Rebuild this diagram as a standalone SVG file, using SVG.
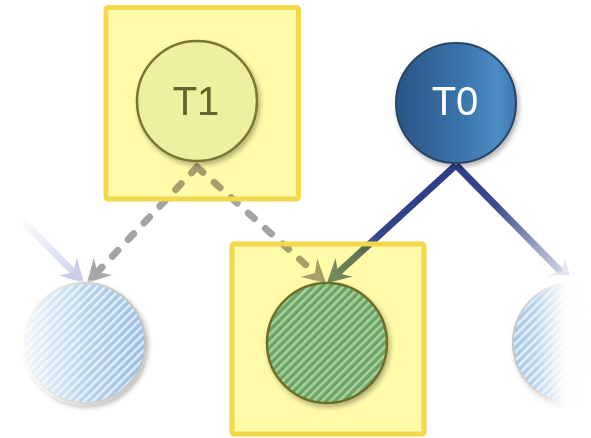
<svg xmlns="http://www.w3.org/2000/svg" width="591" height="438" viewBox="0 0 591 438">
  <defs>
    <style>
      .lbl { font-family: "Liberation Sans", Arial, sans-serif; font-size: 40px; text-anchor: middle; }
      .dash { fill: none; stroke: #a3a3a3; stroke-width: 7; stroke-dasharray: 8 15; stroke-linecap: round; }
      .solid { fill: none; stroke-width: 7; stroke-linecap: butt; }
      .hl-fill { fill: #fffba8; mix-blend-mode: multiply; }
      .hl-edge { fill: none; stroke: #f4d84c; stroke-width: 5; }
    </style>
    <!-- arrowhead pointing along +x, tip at the origin -->
    <path id="head" d="M0,0 L-23,-12.5 L-15,0 L-23,12.5 Z"/>
    <filter id="sh" x="-20%" y="-20%" width="145%" height="145%">
      <feDropShadow dx="2" dy="3" stdDeviation="2.5" flood-color="#000" flood-opacity="0.3"/>
    </filter>
    <pattern id="hatchC" width="6" height="6" patternUnits="userSpaceOnUse" patternTransform="rotate(45)">
      <rect width="6" height="6" fill="#6aa39f"/>
      <rect width="2.6" height="6" fill="#a6d6e2"/>
    </pattern>
    <pattern id="hatchS" width="6" height="6" patternUnits="userSpaceOnUse" patternTransform="rotate(45)">
      <rect width="6" height="6" fill="#8fbbe3"/>
      <rect width="2.6" height="6" fill="#dbe9f6"/>
    </pattern>
    <linearGradient id="t0fill" x1="0" y1="0" x2="1" y2="0">
      <stop offset="0" stop-color="#2a5586"/>
      <stop offset="0.55" stop-color="#3a74ad"/>
      <stop offset="0.85" stop-color="#4d8cc6"/>
      <stop offset="1" stop-color="#3c76ae"/>
    </linearGradient>
    <linearGradient id="fadeL" x1="0" y1="0" x2="1" y2="0">
      <stop offset="0" stop-color="#fff" stop-opacity="0.9"/>
      <stop offset="0.55" stop-color="#fff" stop-opacity="0.3"/>
      <stop offset="1" stop-color="#fff" stop-opacity="0.05"/>
    </linearGradient>
    <linearGradient id="fadeR" x1="0" y1="0" x2="1" y2="0">
      <stop offset="0" stop-color="#fff" stop-opacity="0.1"/>
      <stop offset="0.35" stop-color="#fff" stop-opacity="0.35"/>
      <stop offset="0.7" stop-color="#fff" stop-opacity="0.97"/>
      <stop offset="1" stop-color="#fff" stop-opacity="1"/>
    </linearGradient>
    <linearGradient id="gC" gradientUnits="userSpaceOnUse" x1="456" y1="165" x2="327" y2="283">
      <stop offset="0" stop-color="#2d3b88"/>
      <stop offset="0.6" stop-color="#33458a"/>
      <stop offset="0.75" stop-color="#627680"/>
      <stop offset="1" stop-color="#788c8e"/>
    </linearGradient>
    <linearGradient id="gR" gradientUnits="userSpaceOnUse" x1="456" y1="165" x2="572" y2="283">
      <stop offset="0" stop-color="#2d3b88"/>
      <stop offset="0.35" stop-color="#3c4c90"/>
      <stop offset="0.75" stop-color="#aab0cc"/>
      <stop offset="1" stop-color="#e2e4f2"/>
    </linearGradient>
    <linearGradient id="gL" gradientUnits="userSpaceOnUse" x1="20" y1="218" x2="84" y2="283">
      <stop offset="0" stop-color="#c8cdea" stop-opacity="0"/>
      <stop offset="1" stop-color="#c8cdea"/>
    </linearGradient>
  </defs>

  <rect width="591" height="438" fill="#fff"/>

  <g id="connectors">
    <line class="solid" stroke="url(#gL)" x1="20" y1="218" x2="73.5" y2="272.3"/>
    <use href="#head" fill="#c9cdea" transform="translate(84,283) rotate(45.4)"/>

    <line class="dash" x1="197" y1="167" x2="96.6" y2="272.8"/>
    <use href="#head" fill="#a8a8a8" transform="translate(87,283) rotate(133.5)"/>

    <line class="dash" x1="197" y1="167" x2="315.6" y2="273.6"/>
    <use href="#head" fill="#a4a4a0" transform="translate(326,283) rotate(41.96)"/>

    <line class="solid" stroke="url(#gC)" x1="456" y1="165" x2="337.3" y2="273.5"/>
    <use href="#head" fill="#768a8c" transform="translate(327,283) rotate(137.55)"/>

    <line class="solid" stroke="url(#gR)" x1="456" y1="165" x2="562.2" y2="273"/>
    <use href="#head" fill="#e4e5f1" transform="translate(572,283) rotate(45.7)"/>
  </g>

  <g id="node-t1">
    <circle cx="197" cy="101" r="60" fill="#eef3f3" stroke="#787a4c" stroke-width="2.5" filter="url(#sh)"/>
    <text class="lbl" x="196" y="115" fill="#646644">T1</text>
  </g>

  <g id="node-t0">
    <circle cx="456" cy="103" r="60" fill="url(#t0fill)" stroke="#2b4563" stroke-width="2" filter="url(#sh)"/>
    <text class="lbl" x="455" y="115" fill="#fff">T0</text>
  </g>

  <g id="node-left">
    <circle cx="85" cy="343" r="60" fill="url(#hatchS)" stroke="#bdbdbd" stroke-width="2" filter="url(#sh)"/>
    <circle cx="85" cy="343" r="63" fill="url(#fadeL)"/>
  </g>

  <g id="node-center">
    <circle cx="327" cy="343" r="60" fill="url(#hatchC)" stroke="#6e703d" stroke-width="2.5" filter="url(#sh)"/>
  </g>

  <g id="node-right">
    <circle cx="573" cy="343" r="60" fill="url(#hatchS)" stroke="#bdbdbd" stroke-width="2" filter="url(#sh)"/>
    <rect x="505" y="275" width="86" height="140" fill="url(#fadeR)"/>
  </g>

  <g id="highlight-t1">
    <rect class="hl-fill" x="106" y="7.5" width="192.5" height="191.5"/>
    <rect class="hl-edge" x="106" y="7.5" width="192.5" height="191.5" rx="2"/>
  </g>

  <g id="highlight-center">
    <rect class="hl-fill" x="232" y="244" width="192" height="190"/>
    <rect class="hl-edge" x="232" y="244" width="192" height="190" rx="2"/>
  </g>
</svg>
